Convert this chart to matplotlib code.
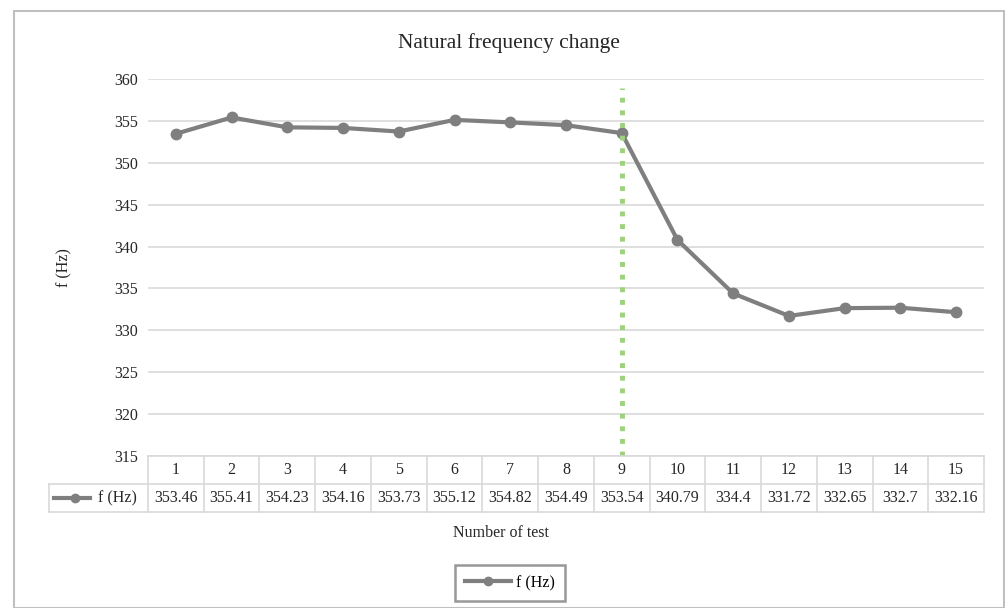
import matplotlib.pyplot as plt
from matplotlib.lines import Line2D
from matplotlib.patches import Rectangle
from matplotlib.transforms import blended_transform_factory

plt.rcParams['font.family'] = ['Liberation Serif', 'DejaVu Serif']

tests = [1, 2, 3, 4, 5, 6, 7, 8, 9, 10, 11, 12, 13, 14, 15]
freq = [353.46, 355.41, 354.23, 354.16, 353.73, 355.12, 354.82, 354.49,
        353.54, 340.79, 334.4, 331.72, 332.65, 332.7, 332.16]
freq_labels = ['353.46', '355.41', '354.23', '354.16', '353.73', '355.12', '354.82', '354.49',
               '353.54', '340.79', '334.4', '331.72', '332.65', '332.7', '332.16']
marker_test = 9
marker_top = 358.9

W, H = 1005, 608
fig = plt.figure(figsize=(W / 100, H / 100), dpi=100)

def fy(y):  # pixel row -> figure fraction
    return 1 - y / H

def fx(x):
    return x / W

txt_c = '#262626'
fs = 11.5

# outer chart border
fig.patches.append(Rectangle((fx(14), fy(608)), fx(1004) - fx(14), fy(11) - fy(608),
                             transform=fig.transFigure, fill=False,
                             edgecolor='#bfbfbf', linewidth=1.5))

ax = fig.add_axes([fx(148), fy(456), fx(984) - fx(148), fy(79) - fy(456)])
ax.set_xlim(0.5, 15.5)
ax.set_ylim(315, 360)
ax.set_yticks(range(315, 361, 5))
ax.grid(axis='y', color='#d9d9d9', linewidth=1.2)
ax.set_axisbelow(True)
for s in ax.spines.values():
    s.set_visible(False)
ax.tick_params(axis='y', length=0, labelsize=fs, pad=7, colors=txt_c)
ax.tick_params(axis='x', length=0, labelbottom=False)

ax.plot(tests, freq, color='#7f7f7f', linewidth=3, marker='o', markersize=7.5, zorder=3)
ax.vlines(marker_test, 315, marker_top, colors='#9bd27a', linewidth=3.5,
          linestyles=(0, (1, 1.6)), zorder=4)

ax.set_ylabel('f (Hz)', fontsize=fs, color=txt_c, labelpad=30)
fig.text(fx(509), fy(43), 'Natural frequency change', ha='center', va='center',
         fontsize=15.5, color=txt_c)

# data table under the axis
tr = blended_transform_factory(ax.transData, fig.transFigure)
grid_c = '#d9d9d9'
r0, r1, r2 = 456, 484, 512
fig.add_artist(Line2D([fx(148), fx(984)], [fy(r0), fy(r0)], color=grid_c, linewidth=1.2))
for y in (r1, r2):
    fig.add_artist(Line2D([fx(49), fx(984)], [fy(y), fy(y)], color=grid_c, linewidth=1.2))
for i in range(16):
    xv = 0.5 + i
    fig.add_artist(Line2D([xv, xv], [fy(r0), fy(r2)], transform=tr, color=grid_c, linewidth=1.2))
fig.add_artist(Line2D([fx(49), fx(49)], [fy(r1), fy(r2)], color=grid_c, linewidth=1.2))
for t, lab in zip(tests, freq_labels):
    fig.text(t, fy((r0 + r1) / 2), str(t), transform=tr, ha='center', va='center',
             fontsize=fs, color=txt_c)
    fig.text(t, fy((r1 + r2) / 2), lab, transform=tr, ha='center', va='center',
             fontsize=fs, color=txt_c)
fig.add_artist(Line2D([fx(54), fx(90)], [fy(498), fy(498)], color='#7f7f7f', linewidth=3))
fig.add_artist(Line2D([fx(75)], [fy(498)], color='#7f7f7f', marker='o', markersize=6))
fig.text(fx(98), fy(498), 'f (Hz)', ha='left', va='center', fontsize=fs, color=txt_c)

fig.text(fx(501), fy(533), 'Number of test', ha='center', va='center',
         fontsize=fs, color=txt_c)

handle = Line2D([], [], color='#7f7f7f', linewidth=3, marker='o', markersize=6)
leg = fig.legend([handle], ['f (Hz)'], loc='center', bbox_to_anchor=(fx(510), fy(583)),
                 fontsize=fs, frameon=True, fancybox=False, handlelength=2.9,
                 borderpad=0.6, borderaxespad=0, handletextpad=0.3)
leg.get_frame().set_edgecolor('#7f7f7f')
leg.get_frame().set_linewidth(1.8)

fig.savefig('out.png', dpi=100)
